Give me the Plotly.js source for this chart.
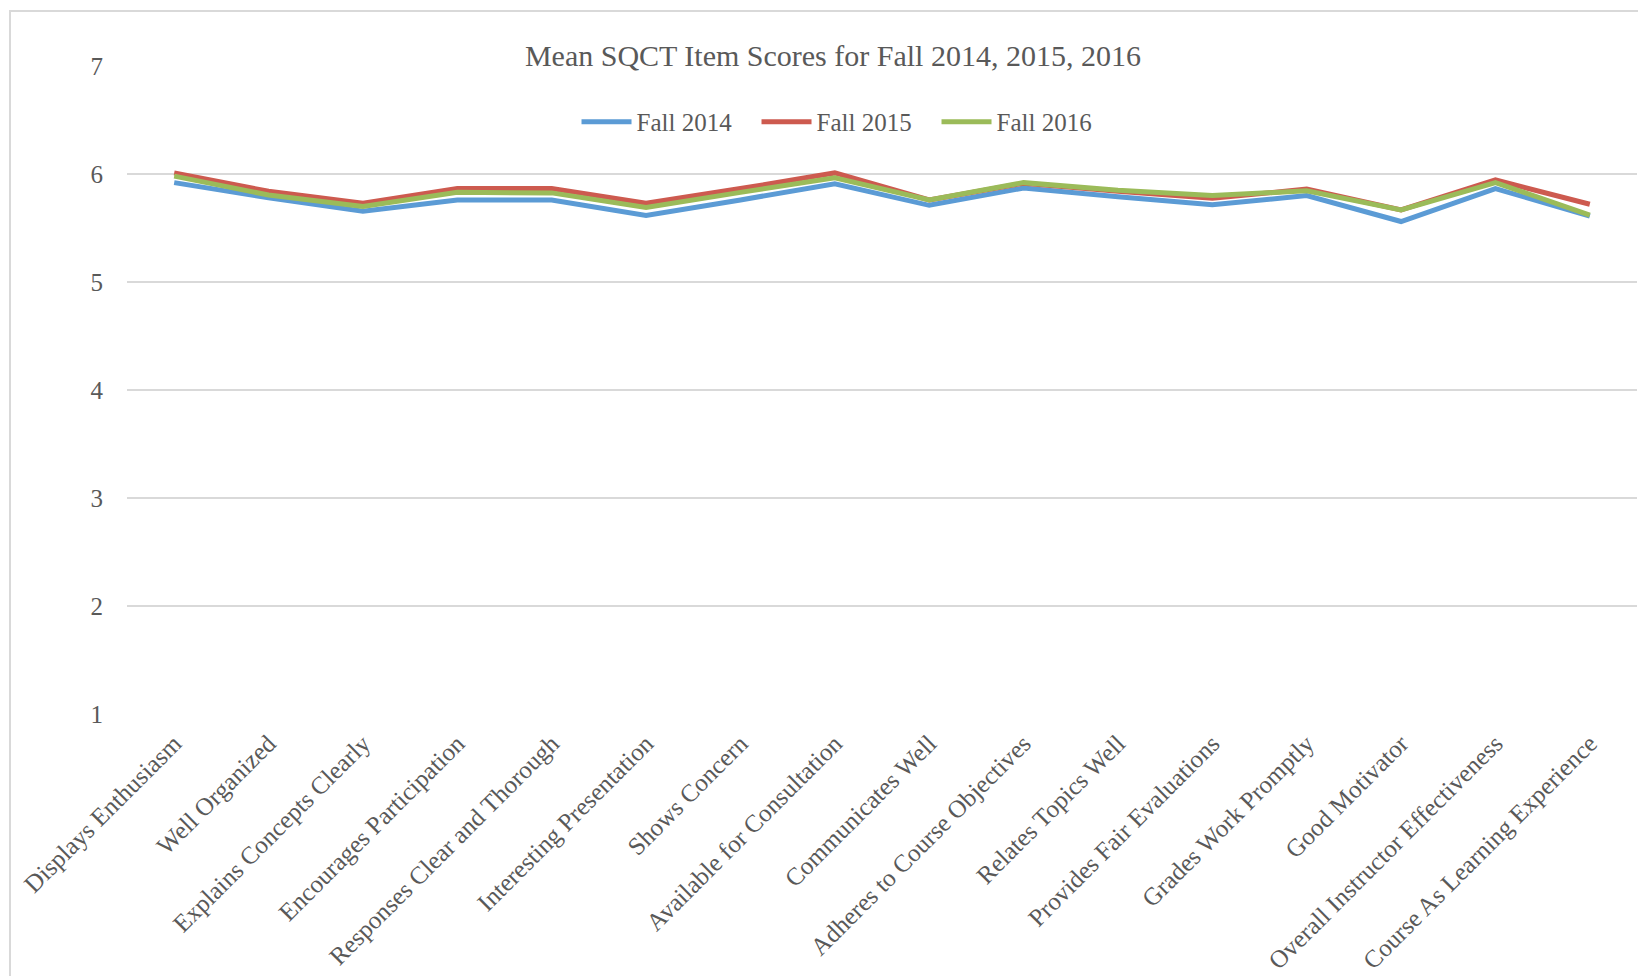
<!DOCTYPE html>
<html>
<head>
<meta charset="utf-8">
<script src="https://cdn.plot.ly/plotly-3.0.1.min.js"></script>
<style>
  html, body { margin: 0; padding: 0; background: #fff; overflow: hidden; }
  #chart { width: 1638px; height: 976px; }
</style>
</head>
<body>
<div id="chart"></div>
<script>
const categories = [
  "Displays Enthusiasm", "Well Organized", "Explains Concepts Clearly",
  "Encourages Participation", "Responses Clear and Thorough",
  "Interesting Presentation", "Shows Concern", "Available for Consultation",
  "Communicates Well", "Adheres to Course Objectives", "Relates Topics Well",
  "Provides Fair Evaluations", "Grades Work Promptly", "Good Motivator",
  "Overall Instructor Effectiveness", "Course As Learning Experience"
];
const fall2014 = [5.92, 5.78, 5.655, 5.76, 5.76, 5.615, 5.76, 5.91, 5.71, 5.87, 5.79, 5.715, 5.80, 5.56, 5.865, 5.61];
const fall2015 = [6.01, 5.84, 5.73, 5.865, 5.865, 5.73, 5.865, 6.01, 5.76, 5.915, 5.84, 5.775, 5.86, 5.667, 5.945, 5.72];
const fall2016 = [5.98, 5.805, 5.70, 5.83, 5.825, 5.69, 5.83, 5.965, 5.76, 5.92, 5.85, 5.80, 5.845, 5.667, 5.92, 5.62];
const seriesNames = ["Fall 2014", "Fall 2015", "Fall 2016"];
const yTicks = [1, 2, 3, 4, 5, 6, 7];

const colors = ["#5b9bd5", "#cd5a4f", "#9bbb59"];
const font = "Liberation Serif, Times New Roman, serif";
const textColor = "#595959";

const traces = [fall2014, fall2015, fall2016].map((vals, i) => ({
  type: "scatter",
  mode: "lines",
  x: categories,
  y: vals,
  name: seriesNames[i],
  line: { color: colors[i], width: 5 },
  hoverinfo: "x+y+name"
}));

const layout = {
  width: 1638,
  height: 976,
  paper_bgcolor: "#ffffff",
  plot_bgcolor: "#ffffff",
  margin: { l: 127, r: 1, t: 66, b: 262, pad: 0 },
  font: { family: font, color: textColor, size: 25 },
  title: {
    text: "Mean SQCT Item Scores for Fall 2014, 2015, 2016",
    font: { family: font, size: 30, color: textColor },
    x: 0.4675, xref: "paper", xanchor: "center",
    y: 1 - 55 / 976, yref: "container", yanchor: "middle"
  },
  showlegend: true,
  legend: {
    orientation: "h",
    x: 0.4765, xanchor: "center",
    y: 0.9136, yanchor: "middle",
    font: { family: font, size: 25, color: textColor },
    itemwidth: 50,
    entrywidth: 115,
    entrywidthmode: "pixels",
    bgcolor: "rgba(0,0,0,0)"
  },
  xaxis: {
    type: "category",
    range: [-0.5, 15.5],
    tickangle: -45,
    showgrid: false,
    zeroline: false,
    showline: false,
    ticks: "outside",
    ticklen: 4,
    tickcolor: "rgba(0,0,0,0)",
    tickfont: { family: font, size: 25, color: textColor },
    fixedrange: true
  },
  yaxis: {
    range: [1, 7],
    tickvals: yTicks,
    ticktext: yTicks.map(String),
    showgrid: true,
    gridcolor: "#d9d9d9",
    gridwidth: 1.5,
    zeroline: false,
    showline: false,
    ticks: "outside",
    ticklen: 18,
    tickcolor: "rgba(0,0,0,0)",
    tickfont: { family: font, size: 25, color: textColor },
    fixedrange: true
  },
  shapes: [{
    type: "rect", xref: "paper", yref: "paper", layer: "below",
    x0: (10 - 127) / 1510, x1: 1.3,
    y0: -0.6, y1: (714 - 11) / 648,
    line: { color: "#d9d9d9", width: 2 },
    fillcolor: "rgba(0,0,0,0)"
  }]
};

Plotly.newPlot("chart", traces, layout, { staticPlot: true, displayModeBar: false });
</script>
</body>
</html>
